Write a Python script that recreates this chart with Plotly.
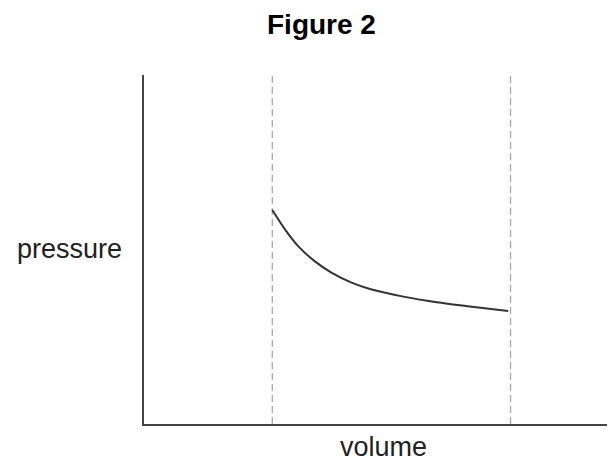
import plotly.graph_objects as go

# Data (arbitrary units)
volume = [2.80, 3.08, 3.37, 3.73, 4.10, 4.53, 4.95, 5.66, 6.39, 7.11, 7.95]
pressure = [6.13, 5.57, 5.09, 4.66, 4.33, 4.05, 3.86, 3.65, 3.49, 3.37, 3.24]
boundary_volumes = [2.8, 8.0]
x_range = [0, 10.28]
y_range = [0, 10]

# Page is offset by the 8px default body margin
W, H = 607, 451
L, R, T, B = 136, 0, 67, 35
plot_w = W - L - R
plot_h = H - T - B


def px_x(px):
    return (px - 8 - L) / plot_w


def px_y(py):
    return (H - B - (py - 8)) / plot_h


fig = go.Figure()

for bv in boundary_volumes:
    fig.add_trace(go.Scatter(
        x=[bv, bv], y=y_range, mode="lines",
        line=dict(color="#a8a8a8", width=1.3, dash="7px,4px"),
        hoverinfo="skip", showlegend=False))

fig.add_trace(go.Scatter(
    x=volume, y=pressure, mode="lines",
    line=dict(color="#333333", width=2, shape="spline", smoothing=0.8),
    showlegend=False))

fig.update_layout(
    width=W, height=H,
    margin=dict(l=L, r=R, t=T, b=B),
    plot_bgcolor="white", paper_bgcolor="white",
    font=dict(family="Liberation Sans, Arial, sans-serif", color="#222222"),
    xaxis=dict(range=x_range, showgrid=False, zeroline=False, showticklabels=False,
               ticks="", showline=True, linecolor="#444444", linewidth=2),
    yaxis=dict(range=y_range, showgrid=False, zeroline=False, showticklabels=False,
               ticks="", showline=True, linecolor="#444444", linewidth=2),
    annotations=[
        dict(text="<b>Figure 2</b>", x=px_x(321), xref="paper", xanchor="center",
             y=px_y(24), yref="paper", yanchor="middle", showarrow=False,
             font=dict(size=28, color="#000000")),
        dict(text="pressure", xref="paper", yref="paper", x=px_x(124), y=px_y(249),
             xanchor="right", yanchor="middle", showarrow=False,
             font=dict(size=27, color="#222222")),
        dict(text="volume", xref="paper", yref="paper", x=px_x(383), y=px_y(447),
             xanchor="center", yanchor="middle", showarrow=False,
             font=dict(size=27, color="#222222")),
    ],
)

fig.write_html("out.html")
